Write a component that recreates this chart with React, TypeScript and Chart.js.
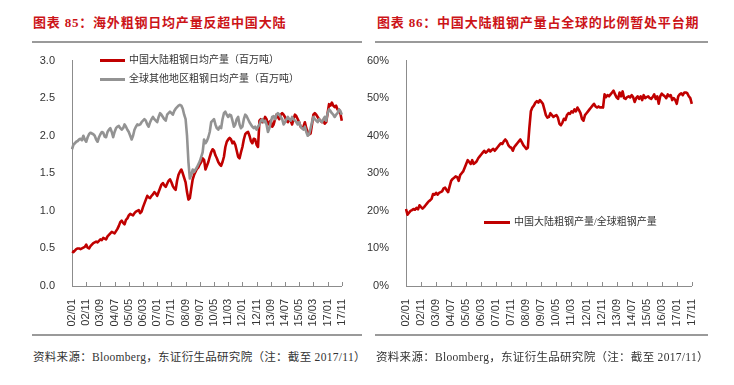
import React, { useEffect, useRef } from "react";
import { Chart, registerables } from "chart.js";

Chart.register(...registerables);

// Monthly categories 2002/01 .. 2017/11
const months: string[] = [];
for (let y = 2002; y <= 2017; y++) {
  for (let m = 1; m <= 12; m++) {
    if (y === 2017 && m > 11) break;
    months.push(`${String(y % 100).padStart(2, "0")}/${String(m).padStart(2, "0")}`);
  }
}
const tickEvery = 10;

// 中国大陆粗钢日均产量（百万吨）
const chinaDaily = [
  0.46, 0.45, 0.47, 0.49, 0.50, 0.50, 0.49, 0.50, 0.51, 0.52, 0.55, 0.51,
  0.50, 0.53, 0.55, 0.57, 0.58, 0.59, 0.58, 0.60, 0.62, 0.61, 0.64, 0.63,
  0.62, 0.66, 0.68, 0.70, 0.72, 0.71, 0.70, 0.73, 0.76, 0.80, 0.85, 0.87,
  0.84, 0.82, 0.88, 0.90, 0.94, 0.96, 0.95, 0.94, 0.97, 0.99, 1.00, 1.01,
  0.97, 0.99, 1.05, 1.10, 1.15, 1.20, 1.18, 1.17, 1.20, 1.22, 1.25, 1.23,
  1.20, 1.25, 1.30, 1.35, 1.37, 1.34, 1.32, 1.36, 1.40, 1.42, 1.38, 1.33,
  1.30, 1.28, 1.40, 1.48, 1.52, 1.55, 1.50, 1.44, 1.38, 1.25, 1.15, 1.17,
  1.30, 1.42, 1.48, 1.52, 1.56, 1.58, 1.62, 1.65, 1.70, 1.68, 1.55, 1.60,
  1.65, 1.72, 1.78, 1.82, 1.80, 1.74, 1.70, 1.65, 1.62, 1.60, 1.65, 1.72,
  1.85, 1.92, 1.95, 1.97, 1.95, 1.90, 1.92, 1.88, 1.80, 1.72, 1.70, 1.78,
  1.85, 1.95, 2.02, 2.04, 2.05, 2.00, 1.93, 1.90, 1.96, 1.95, 1.88, 1.85,
  2.20, 2.22, 2.18, 2.20, 2.25, 2.22, 2.15, 2.18, 2.20, 2.12, 2.15, 2.22,
  2.28, 2.25, 2.22, 2.28, 2.30, 2.28, 2.25, 2.20, 2.18, 2.22, 2.20, 2.15,
  2.22, 2.28, 2.26, 2.22, 2.18, 2.12, 2.10, 2.12, 2.18, 2.10, 2.05, 2.02,
  2.03, 2.15, 2.28, 2.30, 2.28, 2.25, 2.22, 2.20, 2.18, 2.20, 2.16, 2.18,
  2.30, 2.42, 2.40, 2.44, 2.40, 2.38, 2.40, 2.35, 2.35, 2.30, 2.20,
];

// 全球其他地区粗钢日均产量（百万吨）
const otherDaily = [
  1.82, 1.88, 1.90, 1.92, 1.93, 1.95, 1.96, 1.94, 2.00, 1.95, 1.92, 1.98,
  2.02, 2.04, 2.03, 2.02, 2.00, 1.95, 1.92, 1.98, 2.02, 2.05, 2.04, 1.99,
  1.98, 2.05, 2.08, 2.10, 2.05, 1.98, 2.05, 2.10, 2.12, 2.13, 2.10, 2.08,
  2.10, 2.15, 2.12, 2.08, 2.05, 2.00, 1.95, 2.00, 2.08, 2.12, 2.15, 2.14,
  2.15, 2.18, 2.20, 2.22, 2.20, 2.15, 2.12, 2.18, 2.22, 2.25, 2.22, 2.20,
  2.18, 2.25, 2.30, 2.28, 2.25, 2.22, 2.20, 2.28, 2.30, 2.32, 2.30, 2.28,
  2.33, 2.36, 2.38, 2.40, 2.41, 2.40, 2.36, 2.28, 2.22, 2.00, 1.65, 1.43,
  1.48, 1.55, 1.52, 1.55, 1.58, 1.62, 1.66, 1.72, 1.78, 1.95, 1.90, 1.93,
  1.98, 2.05, 2.18, 2.20, 2.22, 2.15, 2.10, 2.08, 2.12, 2.10, 2.22, 2.30,
  2.32, 2.28, 2.25, 2.28, 2.27, 2.20, 2.12, 2.15, 2.22, 2.25, 2.15, 2.10,
  2.12, 2.22, 2.28, 2.26, 2.22, 2.18, 2.15, 2.12, 2.10, 2.12, 2.08, 2.12,
  2.15, 2.20, 2.22, 2.18, 2.20, 2.15, 2.05, 2.10, 2.18, 2.25, 2.26, 2.22,
  2.28, 2.30, 2.28, 2.25, 2.22, 2.15, 2.18, 2.22, 2.25, 2.22, 2.20, 2.25,
  2.22, 2.20, 2.18, 2.15, 2.18, 2.12, 2.10, 2.08, 2.12, 2.05, 2.00, 2.02,
  2.10, 2.18, 2.25, 2.22, 2.20, 2.18, 2.22, 2.20, 2.18, 2.22, 2.25, 2.20,
  2.30, 2.35, 2.33, 2.30, 2.28, 2.25, 2.28, 2.30, 2.35, 2.33, 2.28,
];

// 中国大陆粗钢产量/全球粗钢产量（%）
const chinaShare = [
  20.5, 19.0, 19.5, 20.0, 20.2, 20.5, 20.3, 20.8, 20.4, 21.5, 21.0, 20.6,
  21.0, 21.5, 22.0, 22.5, 22.8, 23.2, 24.5, 24.3, 24.8, 24.3, 24.8, 25.0,
  25.2, 26.0, 26.2, 25.5, 25.0, 26.5, 28.0, 28.5, 28.8, 29.2, 29.0, 28.0,
  29.5, 30.0, 30.5, 31.5, 32.5, 33.5, 33.0, 32.5, 33.5, 32.5, 32.8, 33.2,
  34.0, 34.5, 35.0, 35.5, 36.0, 35.5, 35.8, 36.3, 35.8, 36.2, 36.5, 36.0,
  36.5, 37.0, 37.5, 38.0, 37.8, 38.5, 39.0, 38.5, 37.5, 37.0, 36.8, 36.0,
  37.0, 37.5, 38.0, 38.5, 39.0, 38.3, 37.5, 37.0, 36.5, 36.8, 42.0, 46.5,
  47.5, 48.0, 48.8, 49.2, 48.8, 49.5, 49.0, 48.5, 47.0, 45.5, 44.8, 45.0,
  46.0, 45.5, 45.0, 45.3, 45.5, 44.8, 43.2, 42.8, 43.5, 44.5, 44.2, 45.5,
  46.0, 45.8, 46.5, 46.2, 47.0, 46.5, 47.5, 46.8, 46.0, 44.5, 44.0, 45.5,
  46.0, 46.5, 47.0, 47.5, 48.0, 48.5, 47.8, 47.5, 47.8, 47.5, 47.6, 47.5,
  51.0, 50.3, 50.8, 50.5, 51.0, 51.5, 52.0, 51.0, 50.2, 49.8, 51.5, 50.5,
  51.8, 50.0, 49.8, 50.3, 50.5, 50.2, 50.8, 50.3, 49.0, 50.0, 50.5, 49.8,
  50.5, 49.5, 50.8, 50.0, 50.3, 50.5, 50.0, 49.8, 50.3, 51.0, 49.8, 50.5,
  48.5, 50.5, 51.2, 50.8, 50.5, 50.0, 51.0, 50.5, 50.8, 49.5, 50.0, 49.5,
  48.5, 50.5, 51.0, 51.3, 50.8, 51.5, 51.5, 51.3, 50.5, 50.0, 48.5,
];

const leftYTicks = { min: 0, max: 3, step: 0.5 };
const rightYTicks = { min: 0, max: 60, step: 10 };

const RED = "#C00000";
const GREY = "#939393";
const AXIS = "#8c8c8c";
const TICK_FONT = { family: "'Liberation Sans', Arial, sans-serif", size: 11 };
const CJK = "'Liberation Serif', 'Noto Sans CJK SC', serif";

const xTickPlugin = {
  id: "xInwardTicks",
  afterDatasetsDraw(chart: any) {
    const x = chart.scales.x;
    const ctx = chart.ctx;
    ctx.save();
    ctx.strokeStyle = AXIS;
    ctx.lineWidth = 1;
    for (let i = 0; i < months.length; i += tickEvery) {
      const px = Math.round(x.getPixelForValue(i)) + 0.5;
      ctx.beginPath();
      ctx.moveTo(px, x.top);
      ctx.lineTo(px, x.top - 4);
      ctx.stroke();
    }
    ctx.restore();
  },
};

type DS = { data: number[]; color: string; order: number };

function LineChart(props: {
  width: number;
  height: number;
  left: number;
  top: number;
  yWidth: number;
  padTop: number;
  padRight: number;
  xHeight: number;
  yRange: { min: number; max: number; step: number };
  fmt: (v: number) => string;
  series: DS[];
}) {
  const ref = useRef<HTMLCanvasElement | null>(null);
  useEffect(() => {
    if (!ref.current) return;
    const chart = new Chart(ref.current, {
      type: "line",
      data: {
        labels: months,
        datasets: props.series.map((s) => ({
          data: s.data,
          borderColor: s.color,
          backgroundColor: s.color,
          borderWidth: 2.6,
          pointRadius: 0,
          tension: 0,
          order: s.order,
          borderJoinStyle: "round" as const,
        })),
      },
      options: {
        animation: false,
        responsive: false,
        maintainAspectRatio: false,
        layout: { padding: { top: props.padTop, right: props.padRight, left: 0, bottom: 0 } },
        plugins: { legend: { display: false }, tooltip: { enabled: false } },
        scales: {
          x: {
            type: "category",
            offset: false,
            grid: { display: false },
            border: { display: true, color: AXIS, width: 1 },
            ticks: {
              autoSkip: false,
              maxRotation: 90,
              minRotation: 90,
              padding: 5,
              color: "#333",
              font: TICK_FONT,
              callback: (_v: any, i: number) => (i % tickEvery === 0 ? months[i] : null),
            },
            afterFit: (s: any) => {
              s.height = props.xHeight;
            },
          },
          y: {
            min: props.yRange.min,
            max: props.yRange.max,
            grid: { display: false },
            border: { display: true, color: AXIS, width: 1 },
            ticks: {
              stepSize: props.yRange.step,
              padding: 9,
              color: "#333",
              font: TICK_FONT,
              callback: (v: any) => props.fmt(Number(v)),
            },
            afterFit: (s: any) => {
              s.width = props.yWidth;
            },
          },
        },
      },
      plugins: [xTickPlugin],
    });
    return () => chart.destroy();
  }, []);
  return (
    <canvas
      ref={ref}
      width={props.width}
      height={props.height}
      style={{ position: "absolute", left: props.left, top: props.top, width: props.width, height: props.height }}
    />
  );
}

function Legend(props: { left: number; top: number; color: string; text: string; lineW: number }) {
  return (
    <div style={{ position: "absolute", left: props.left, top: props.top - 7, height: 14, display: "flex", alignItems: "center", whiteSpace: "nowrap" }}>
      <div style={{ width: props.lineW, height: 3, background: props.color, marginRight: 4 }} />
      <span style={{ fontFamily: CJK, fontSize: 10, color: "#333", lineHeight: "14px" }}>{props.text}</span>
    </div>
  );
}

const titleStyle: React.CSSProperties = {
  position: "absolute",
  top: 14,
  fontFamily: CJK,
  fontSize: 13,
  fontWeight: "bold",
  color: "#CC1418",
  letterSpacing: 0.8,
  whiteSpace: "nowrap",
  lineHeight: "18px",
};
const sourceStyle: React.CSSProperties = {
  position: "absolute",
  top: 349,
  fontFamily: CJK,
  fontSize: 11.5,
  color: "#333",
  letterSpacing: 0.3,
  whiteSpace: "nowrap",
  lineHeight: "16px",
};
const rule = (left: number, top: number, width: number): React.CSSProperties => ({
  position: "absolute",
  left,
  top,
  width,
  height: 2,
  background: "#9a9a9a",
});

export default function App() {
  return (
    <div style={{ position: "fixed", left: 0, top: 0, width: 734, height: 385, background: "#fff", overflow: "hidden" }}>
      <div style={{ ...titleStyle, left: 33 }}>图表 85：海外粗钢日均产量反超中国大陆</div>
      <div style={{ ...titleStyle, left: 377 }}>图表 86：中国大陆粗钢产量占全球的比例暂处平台期</div>
      <div style={rule(32, 41, 330)} />
      <div style={rule(375, 41, 333)} />

      <LineChart
        width={340}
        height={290}
        left={20}
        top={45}
        yWidth={52}
        padTop={14}
        padRight={15}
        xHeight={49}
        yRange={leftYTicks}
        fmt={(v) => v.toFixed(1)}
        series={[
          { data: chinaDaily, color: RED, order: 2 },
          { data: otherDaily, color: GREY, order: 1 },
        ]}
      />
      <LineChart
        width={355}
        height={290}
        left={355}
        top={45}
        yWidth={51}
        padTop={14}
        padRight={13}
        xHeight={49}
        yRange={rightYTicks}
        fmt={(v) => `${Math.round(v)}%`}
        series={[{ data: chinaShare, color: RED, order: 1 }]}
      />

      <Legend left={100} top={60} color={RED} text="中国大陆粗钢日均产量（百万吨）" lineW={25} />
      <Legend left={100} top={79} color={GREY} text="全球其他地区粗钢日均产量（百万吨）" lineW={25} />
      <Legend left={484} top={222} color={RED} text="中国大陆粗钢产量/全球粗钢产量" lineW={26} />

      <div style={rule(32, 334, 330)} />
      <div style={rule(375, 334, 333)} />
      <div style={{ ...sourceStyle, left: 33 }}>资料来源：Bloomberg，东证衍生品研究院（注：截至 2017/11）</div>
      <div style={{ ...sourceStyle, left: 376 }}>资料来源：Bloomberg，东证衍生品研究院（注：截至 2017/11）</div>
    </div>
  );
}
